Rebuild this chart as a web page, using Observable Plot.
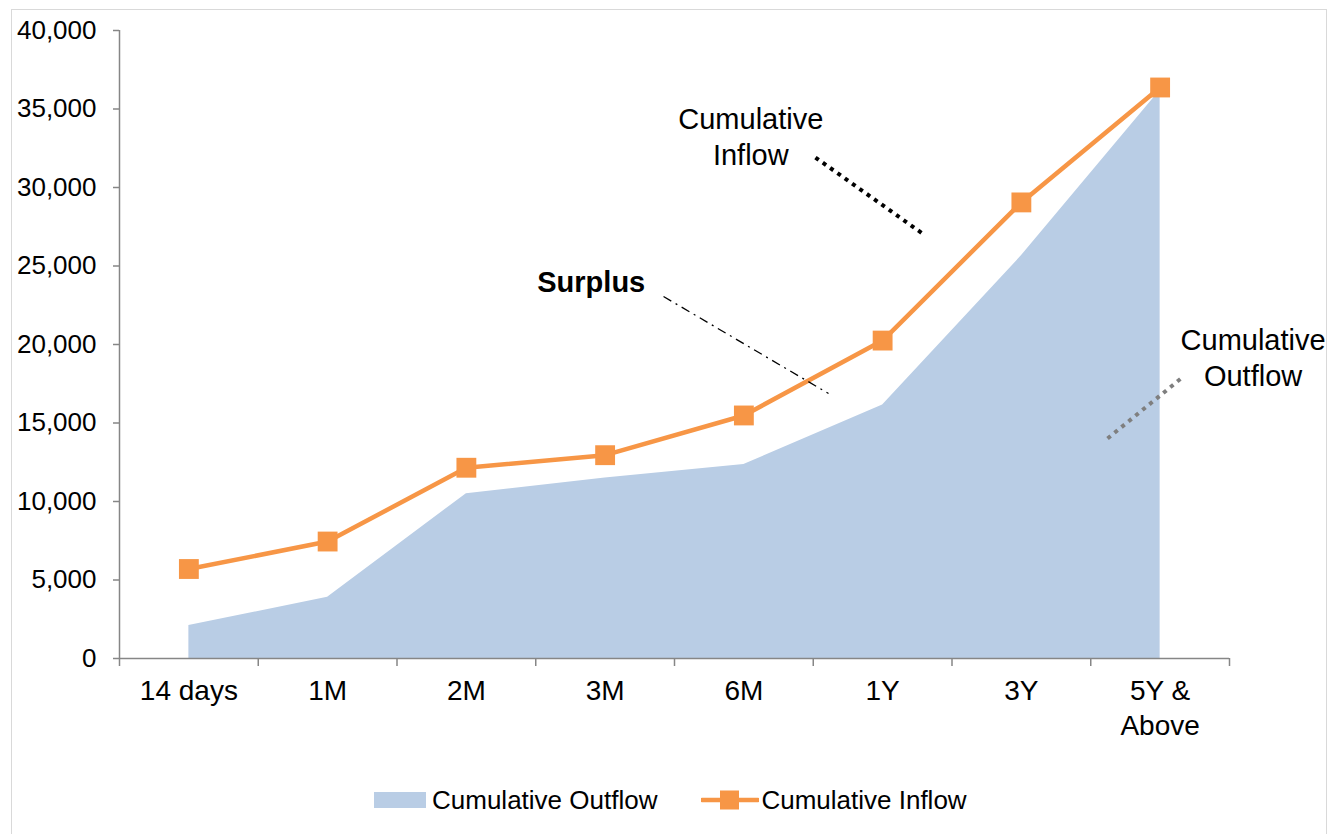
<!DOCTYPE html>
<html>
<head>
<meta charset="utf-8">
<script src="https://cdn.jsdelivr.net/npm/d3@7"></script>
<script src="https://cdn.jsdelivr.net/npm/@observablehq/plot@0.6"></script>
<style>
  html, body { margin: 0; padding: 0; background: #fff; overflow: hidden; }
  #wrap { position: relative; width: 1328px; height: 834px; font-family: "Liberation Sans", Arial, sans-serif; }
  #frame { position: absolute; left: 11px; top: 9px; width: 1316px; height: 840px; border: 1.5px solid #D9D9D9; box-sizing: border-box; }
  #chart { position: absolute; left: 0; top: 0; }
  #legend { position: absolute; left: 374px; top: 783px; height: 34px; display: flex; align-items: center; font-size: 26px; color: #000; white-space: nowrap; }
  #legend .item { display: flex; align-items: center; }
  #legend svg { display: block; }
</style>
</head>
<body>
<div id="wrap">
  <div id="frame"></div>
  <div id="chart"></div>
  <div id="legend"></div>
</div>
<script>
const categories = ["14 days", "1M", "2M", "3M", "6M", "1Y", "3Y", "5Y &\nAbove"];
const outflow = [2100, 3900, 10500, 11500, 12350, 16150, 25650, 36200];
const inflow = [5700, 7450, 12150, 12950, 15480, 20250, 29050, 36370];
const yTicks = [0, 5000, 10000, 15000, 20000, 25000, 30000, 35000, 40000];
const seriesNames = ["Cumulative Outflow", "Cumulative Inflow"];

const outflowColor = "#B9CDE5";
const inflowColor = "#F79646";
const axisColor = "#868686";

const data = categories.map((c, i) => ({i, cat: c, outflow: outflow[i], inflow: inflow[i]}));
const boundaries = d3.range(categories.length + 1).map(k => k - 0.5);

// annotations (placed in data units)
const annInflowText = [{x: 4.05, y: 35350, text: "Cumulative\nInflow"}];
const annSurplusText = [{x: 2.90, y: 24650, text: "Surplus"}];
const annOutflowText = [{x: 7.67, y: 21270, text: "Cumulative\nOutflow"}];
const annInflowLine = [{x1: 4.516, y1: 31910, x2: 5.287, y2: 27070}];
const annSurplusLine = [{x1: 3.421, y1: 23056, x2: 4.61, y2: 16878}];
const annOutflowLine = [{x1: 6.621, y1: 14012, x2: 7.168, y2: 17961}];

const chart = Plot.plot({
  width: 1328,
  height: 770,
  marginLeft: 119,
  marginRight: 99,
  marginTop: 30,
  marginBottom: 112,
  x: {type: "linear", domain: [-0.5, categories.length - 0.5]},
  y: {domain: [0, 40000]},
  style: {fontFamily: "'Liberation Sans', Arial, sans-serif", fontSize: "26px", background: "transparent", overflow: "visible"},
  marks: [
    Plot.areaY(data, {x: "i", y: "outflow", fill: outflowColor, fillOpacity: 1}),
    Plot.ruleX([-0.5], {stroke: axisColor, strokeWidth: 1.5}),
    Plot.ruleY([0], {stroke: axisColor, strokeWidth: 1.5}),
    Plot.axisY({ticks: yTicks, tickFormat: d3.format(","), tickSize: 6, tickPadding: 17, fontSize: 26, stroke: axisColor, strokeWidth: 1.5, strokeOpacity: 1, fill: "#000", label: null}),
    Plot.axisX({ticks: boundaries, tickFormat: () => "", tickSize: 8, stroke: axisColor, strokeWidth: 1.5, strokeOpacity: 1, label: null}),
    Plot.axisX({ticks: d3.range(categories.length), tickFormat: i => categories[i], tickSize: 0, tickPadding: 17, fontSize: 28, fill: "#000", lineHeight: 1.25, label: null}),
    Plot.line(data, {x: "i", y: "inflow", stroke: inflowColor, strokeWidth: 4.5}),
    Plot.dot(data, {x: "i", y: "inflow", symbol: "square", r: 11.2, fill: inflowColor, stroke: null}),
    Plot.link(annInflowLine, {x1: "x1", y1: "y1", x2: "x2", y2: "y2", stroke: "#000", strokeWidth: 4, strokeDasharray: "4,5"}),
    Plot.link(annSurplusLine, {x1: "x1", y1: "y1", x2: "x2", y2: "y2", stroke: "#000", strokeWidth: 1.3, strokeDasharray: "9,5,2,5"}),
    Plot.link(annOutflowLine, {x1: "x1", y1: "y1", x2: "x2", y2: "y2", stroke: "#7F7F7F", strokeWidth: 4, strokeDasharray: "4,5"}),
    Plot.text(annInflowText, {x: "x", y: "y", text: "text", lineAnchor: "top", fontSize: 29, lineHeight: 1.24, fill: "#000"}),
    Plot.text(annSurplusText, {x: "x", y: "y", text: "text", lineAnchor: "top", fontSize: 29, fontWeight: "bold", fill: "#000"}),
    Plot.text(annOutflowText, {x: "x", y: "y", text: "text", lineAnchor: "top", fontSize: 29, lineHeight: 1.24, fill: "#000"})
  ]
});
document.getElementById("chart").appendChild(chart);

// legend
const legend = document.getElementById("legend");
legend.innerHTML = `
  <div class="item">
    <svg width="52" height="18"><rect x="0" y="1" width="52" height="16" fill="${outflowColor}"></rect></svg>
    <span style="margin-left:6px">${seriesNames[0]}</span>
  </div>
  <div class="item" style="margin-left:44px">
    <svg width="58" height="20"><line x1="1" y1="10" x2="57" y2="10" stroke="${inflowColor}" stroke-width="4.5" stroke-linecap="round"></line><rect x="19" y="0.5" width="19" height="19" fill="${inflowColor}"></rect></svg>
    <span style="margin-left:2px">${seriesNames[1]}</span>
  </div>`;
</script>
</body>
</html>
